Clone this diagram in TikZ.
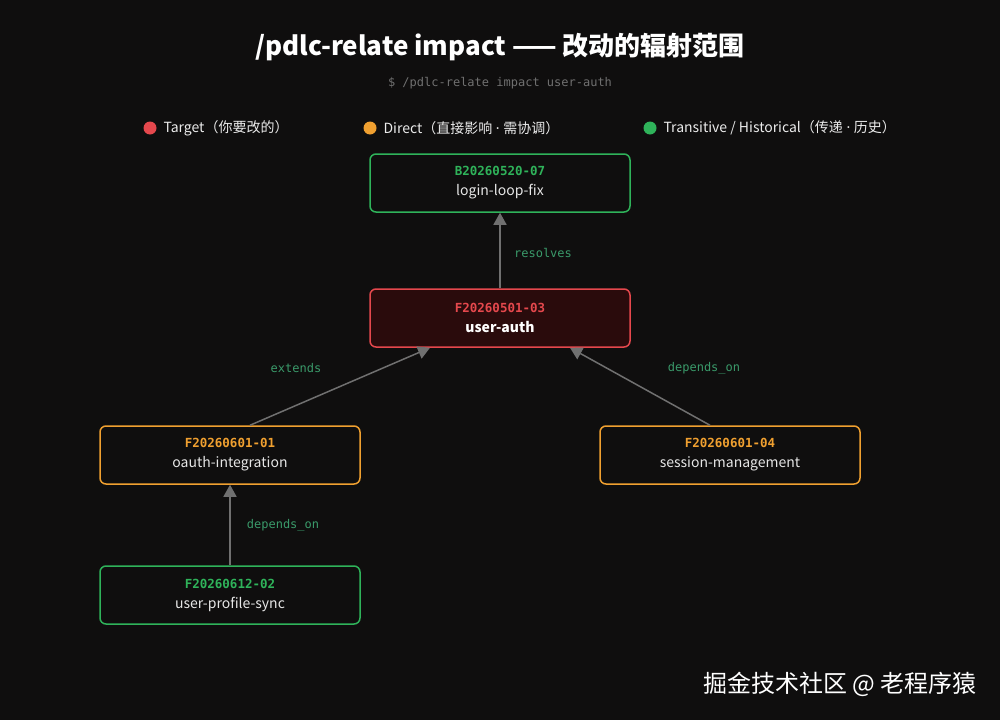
\documentclass[tikz,border=0pt]{standalone}
\usepackage{fontspec}
\setmainfont{Noto Sans CJK SC}
\setmonofont{DejaVu Sans Mono}
\newfontfamily\latinsans{Noto Sans}
\usetikzlibrary{arrows.meta}
\definecolor{bg}{HTML}{0F0E0E}
\definecolor{tgreen}{HTML}{2FB35A}
\definecolor{torange}{HTML}{F0A030}
\definecolor{tred}{HTML}{E5484D}
\definecolor{tredfill}{HTML}{2A0B0C}
\definecolor{ttext}{HTML}{E6E6E6}
\definecolor{tgray}{HTML}{707070}
\definecolor{tlabel}{HTML}{3A9A6A}
\tikzset{
  task/.style={draw, line width=1.5pt, rounded corners=6pt, fill=bg,
    minimum width=260pt, minimum height=58pt, align=center, text=ttext,
    font=\fontsize{14}{20}\selectfont},
  rel/.style={draw=tgray, line width=1.5pt, -{Triangle[length=12pt,width=13pt]}},
  rlabel/.style={text=tlabel, font=\ttfamily\fontsize{12}{14}\selectfont},
  legend/.style={text=ttext!80, font=\fontsize{14}{16}\selectfont, anchor=west}
}
\newcommand{\tid}[2]{{\ttfamily\bfseries\fontsize{12.5}{16}\selectfont\textcolor{#1}{#2}}}
\newcommand{\mdot}{{\latinsans\ ·\ }}
\begin{document}
\begin{tikzpicture}[x=1pt,y=-1pt]
  \fill[bg] (0,0) rectangle (1000,720);
  \useasboundingbox (0,0) rectangle (1000,720);
  % title
  \node[text=white, font=\bfseries\fontsize{26}{30}\selectfont] (title) at (500,47)
    {/pdlc-relate impact —— 改动的辐射范围};
  \node[text=tgray, font=\ttfamily\fontsize{12}{14}\selectfont] (cmd) at (500,83)
    {\$ /pdlc-relate impact user-auth};
  % legend
  \fill[tred] (150,128) circle (6.5);
  \node[legend] (lgtarget) at (160,128) {Target（你要改的）};
  \fill[torange] (370,128) circle (6.5);
  \node[legend] (lgdirect) at (380,128) {Direct（直接影响\mdot 需协调）};
  \fill[tgreen] (650,128) circle (6.5);
  \node[legend] (lgtrans) at (660,128) {Transitive / Historical（传递\mdot 历史）};
  % nodes
  \node[task, draw=tgreen] (fix) at (500,183)
    {\tid{tgreen}{B20260520-07}\\login-loop-fix};
  \node[task, draw=tred, fill=tredfill] (auth) at (500,318)
    {\tid{tred}{F20260501-03}\\\textbf{\textcolor{white}{user-auth}}};
  \node[task, draw=torange] (oauth) at (230,455)
    {\tid{torange}{F20260601-01}\\oauth-integration};
  \node[task, draw=torange] (session) at (730,455)
    {\tid{torange}{F20260601-04}\\session-management};
  \node[task, draw=tgreen] (profile) at (230,595)
    {\tid{tgreen}{F20260612-02}\\user-profile-sync};
  % relations
  \draw[rel] (auth.north) -- (fix.south);
  \draw[rel] ([xshift=20pt]oauth.north) -- ([xshift=-70pt]auth.south);
  \draw[rel] ([xshift=-20pt]session.north) -- ([xshift=70pt]auth.south);
  \draw[rel] (profile.north) -- (oauth.south);
  \node[rlabel] (lresolves) at (543,253) {resolves};
  \node[rlabel] (lextends) at (296,368) {extends};
  \node[rlabel] (ldep1) at (704,368) {depends\_on};
  \node[rlabel] (ldep2) at (283,525) {depends\_on};
  % watermark
  \node[text=white!80, font=\fontsize{24}{28}\selectfont, anchor=east] (mark) at (980,684)
    {掘金技术社区 @ 老程序猿};
\end{tikzpicture}
\end{document}
